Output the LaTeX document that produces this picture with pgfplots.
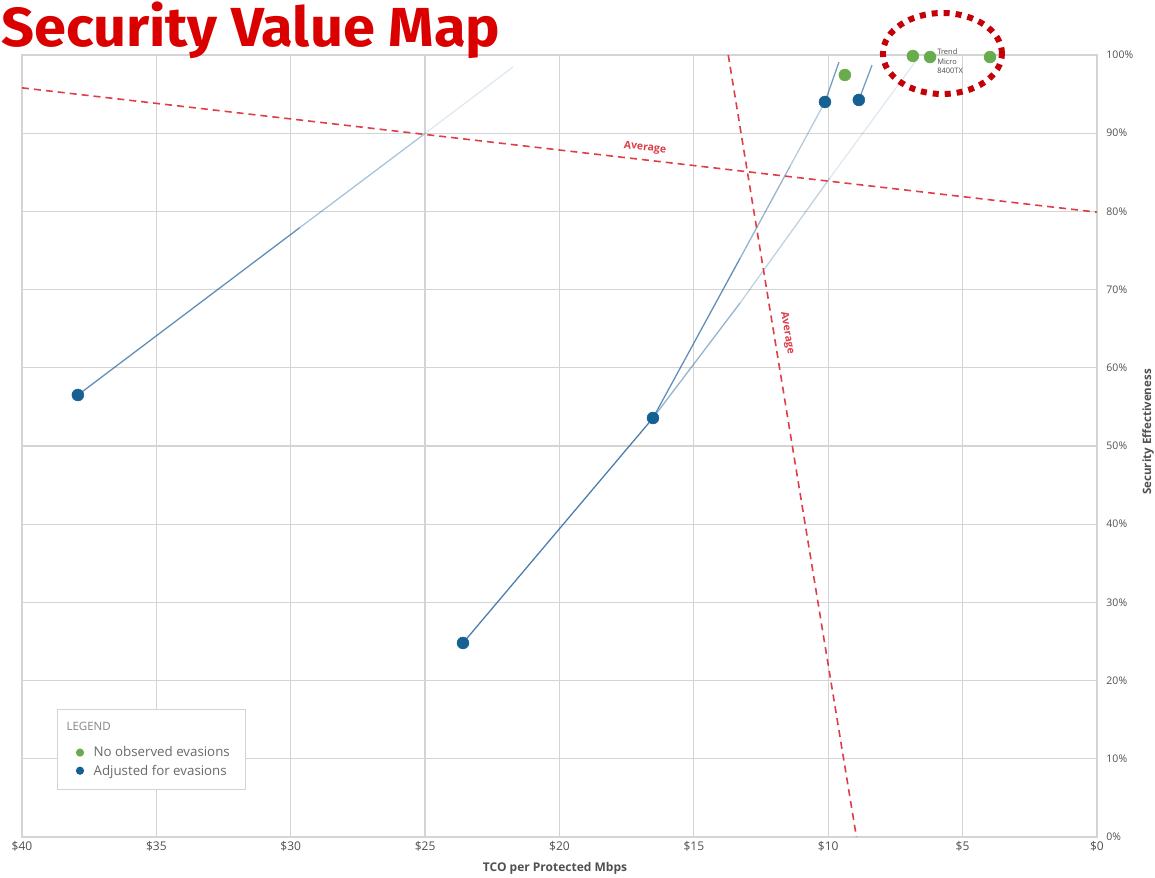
\documentclass[border=0pt]{standalone}
\usepackage{fontspec}
\setmainfont{Open Sans}
\newfontfamily\titlefont{Fira Sans}
\usepackage{pgfplots}
\pgfplotsset{compat=1.18}

\definecolor{gridgray}{RGB}{212,212,212}
\definecolor{tickgray}{RGB}{80,80,80}
\definecolor{leggray}{RGB}{105,105,105}
\definecolor{ptgreen}{RGB}{104,172,78}
\definecolor{ptblue}{RGB}{22,96,146}
\definecolor{lineblue}{RGB}{45,105,160}
\definecolor{avgred}{RGB}{222,62,72}
\definecolor{titlered}{RGB}{218,0,0}
\definecolor{ellred}{RGB}{196,0,8}

\begin{document}
\begin{tikzpicture}
\begin{axis}[
  scale only axis, width=1075pt, height=782pt,
  xmin=0, xmax=40, ymin=0, ymax=100, x dir=reverse,
  xtick={0,5,...,40}, ytick={0,10,...,100},
  xticklabel={\$\pgfmathprintnumber{\tick}},
  yticklabel={\pgfmathprintnumber{\tick}\%},
  /pgf/number format/assume math mode=true,
  yticklabel pos=right,
  grid=major, major grid style={gridgray, line width=1.2pt},
  axis line style={gridgray, line width=1.2pt},
  major tick length=0pt,
  clip=false,
  xticklabel style={font=\fontsize{12}{14}\selectfont, text=tickgray, yshift=-1pt},
  yticklabel style={font=\fontsize{10.5}{12}\selectfont, text=tickgray, anchor=west, xshift=6pt},
  legend cell align=left,
  legend style={at={(0.0326,0.0601)}, anchor=south west, draw=gridgray, line width=0.9pt,
    fill=white, font=\fontsize{13.3}{16}\selectfont, text=leggray,
    inner xsep=14pt, inner ysep=11pt, row sep=2.5pt, column sep=8pt},
]
\coordinate (O) at (axis cs:40,0);

% fading connector lines
\addplot[forget plot, lineblue, line width=1.3pt, opacity=0.75] coordinates {(37.92,56.52) (29.66,77.93)};
\addplot[forget plot, lineblue, line width=1.3pt, opacity=0.40] coordinates {(29.66,77.93) (25.00,89.97)};
\addplot[forget plot, lineblue, line width=1.3pt, opacity=0.15] coordinates {(25.00,89.97) (21.73,98.47)};

\addplot[forget plot, lineblue, line width=1.3pt, opacity=0.85] coordinates {(23.59,24.81) (16.52,53.58)};

\addplot[forget plot, lineblue, line width=1.3pt, opacity=0.75] coordinates {(16.52,53.58) (13.28,74.00)};
\addplot[forget plot, lineblue, line width=1.3pt, opacity=0.50] coordinates {(13.28,74.00) (11.42,85.77)};
\addplot[forget plot, lineblue, line width=1.3pt, opacity=0.35] coordinates {(11.42,85.77) (10.12,93.99)};

\addplot[forget plot, lineblue, line width=1.3pt, opacity=0.50] coordinates {(16.52,53.58) (13.28,68.29)};
\addplot[forget plot, lineblue, line width=1.3pt, opacity=0.30] coordinates {(13.28,68.29) (9.93,84.30)};
\addplot[forget plot, lineblue, line width=1.3pt, opacity=0.15] coordinates {(9.93,84.30) (6.77,99.10)};

\addplot[forget plot, lineblue, line width=1.3pt, opacity=0.65] coordinates {(10.12,93.99) (9.60,99.10)};
\addplot[forget plot, lineblue, line width=1.3pt, opacity=0.65] coordinates {(8.86,94.25) (8.37,98.70)};

% average lines
\addplot[forget plot, avgred, line width=1.6pt, dash pattern=on 7pt off 5pt] coordinates {(40,95.8) (0,79.9)};
\addplot[forget plot, avgred, line width=1.6pt, dash pattern=on 7pt off 5pt] coordinates {(13.72,100) (8.95,0)};
\node[rotate=-6.6, text=avgred, font=\fontsize{10.5}{12}\selectfont\bfseries] at (axis cs:16.82,88.1) {Average};
\node[rotate=-80.7, text=avgred, font=\fontsize{10.5}{12}\selectfont\bfseries] at (axis cs:11.53,64.45) {Average};

% legend header
\addlegendimage{empty legend}
\addlegendentry{\hspace*{-27pt}\raisebox{8pt}{\fontsize{11.5}{13}\selectfont\color{black!48}LEGEND}}

% points
\addplot[only marks, mark=*, mark size=6pt, color=ptgreen, legend image post style={mark size=3.6pt}]
  coordinates {(9.38,97.44) (6.85,99.87) (6.21,99.74) (3.98,99.74)};
\addlegendentry{No observed evasions}
\addplot[only marks, mark=*, mark size=6pt, color=ptblue, legend image post style={mark size=3.6pt}]
  coordinates {(37.92,56.52) (23.59,24.81) (16.52,53.58) (10.12,93.99) (8.86,94.25)};
\addlegendentry{Adjusted for evasions}

\node[anchor=west, align=left, text=black!70, font=\fontsize{7.5}{9.5}\selectfont, inner sep=0pt]
  at (axis cs:5.95,99.2) {Trend\\Micro\\8400TX};

\draw[ellred, line width=6pt, dash pattern=on 6pt off 6pt] (axis cs:5.75,100.19) ellipse [x radius=59.5pt, y radius=40.5pt];
\end{axis}

\node[rotate=90, text=tickgray, font=\fontsize{11.5}{13}\selectfont\bfseries] at ([shift={(1126pt,405pt)}]O) {Security Effectiveness};
\node[text=tickgray, font=\fontsize{12}{14}\selectfont\bfseries] at ([shift={(533pt,-31pt)}]O) {TCO per Protected Mbps};
\node[anchor=base west, text=titlered, font=\titlefont\bfseries\fontsize{55}{58}\selectfont, inner sep=0pt, xscale=1.05]
  at ([shift={(-21pt,790pt)}]O) {Security Value Map};

\pgfresetboundingbox
\path[use as bounding box] ([shift={(-22pt,-40pt)}]O) rectangle ([shift={(1133pt,837pt)}]O);
\end{tikzpicture}
\end{document}
